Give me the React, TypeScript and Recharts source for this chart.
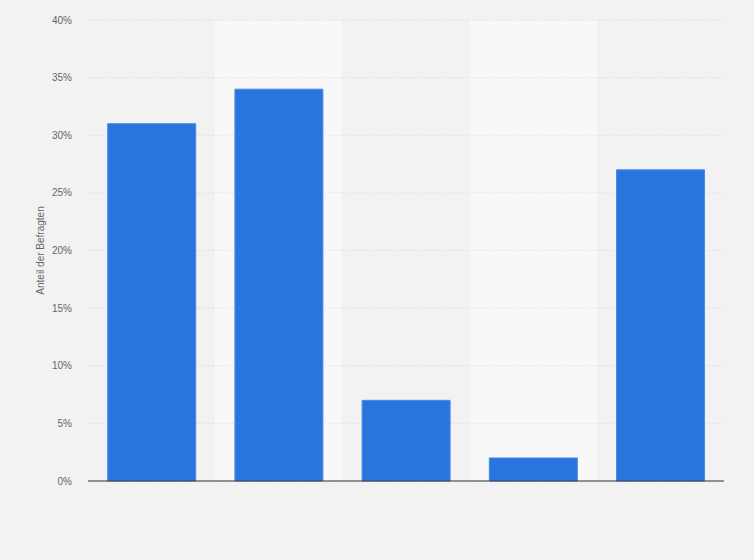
import React from 'react';
import { BarChart, Bar, XAxis, YAxis, CartesianGrid } from 'recharts';

const categories = ['Kategorie 1', 'Kategorie 2', 'Kategorie 3', 'Kategorie 4', 'Kategorie 5'];
const shares = [31, 34, 7, 2, 27];
const yTicks = [0, 5, 10, 15, 20, 25, 30, 35, 40];

const data = categories.map((c, i) => ({ name: c, value: shares[i] }));

const bandEdges = (props: any) => {
  const off = props.offset || {};
  const left = off.left ?? 88;
  const w = off.width ?? 636;
  return categories.map((_, i) => left + (i * w) / categories.length);
};

export default function App() {
  return (
    <div style={{ position: 'absolute', left: 0, top: 0, width: 754, height: 560, background: '#f2f2f2', fontFamily: 'Arial, "Liberation Sans", sans-serif' }}>
      <BarChart width={754} height={560} data={data} margin={{ top: 20, right: 30, bottom: 78, left: 0 }} barCategoryGap="15.5%">
        <CartesianGrid
          horizontal={false}
          vertical={true}
          stroke="#f2f2f2"
          strokeOpacity={0}
          verticalFill={['#f2f2f2', '#f8f8f8']}
          fillOpacity={1}
          verticalCoordinatesGenerator={bandEdges}
        />
        <CartesianGrid vertical={false} stroke="#d6d6d6" strokeDasharray="1 2" />
        <XAxis dataKey="name" tick={false} tickLine={false} axisLine={{ stroke: '#333', strokeWidth: 1 }} height={1} />
        <YAxis
          width={88}
          domain={[0, 40]}
          ticks={yTicks}
          tickFormatter={(v) => `${v}%`}
          axisLine={false}
          tickLine={false}
          tickSize={0}
          tickMargin={16}
          tick={{ fill: '#666', fontSize: 10 }}
          label={{ value: 'Anteil der Befragten', angle: -90, position: 'insideLeft', offset: 40, style: { textAnchor: 'middle', fill: '#666', fontSize: 10 } }}
        />
        <Bar dataKey="value" fill="#2876dd" stroke="#4a8ce3" strokeWidth={1} isAnimationActive={false} />
      </BarChart>
    </div>
  );
}
